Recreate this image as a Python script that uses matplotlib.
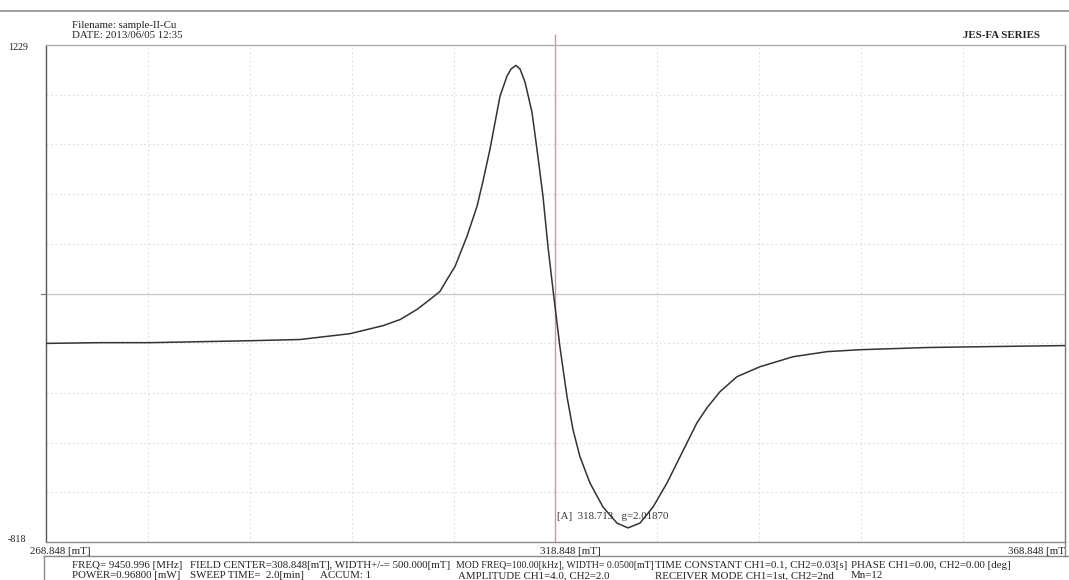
import matplotlib
matplotlib.use("Agg")
import matplotlib.pyplot as plt
from matplotlib.lines import Line2D

# ---- data ----
field_mT = [268.85, 274.15, 279.05, 283.96, 288.87, 293.77, 298.68, 301.92, 303.59,
            305.26, 306.53, 307.51, 308.20, 308.99, 310.16, 311.15, 311.73, 312.42, 313.40,
            314.09, 314.48, 314.97, 315.37, 315.86, 316.54, 317.03, 317.62, 318.11, 318.60,
            319.29, 319.98, 320.57, 321.25, 322.23, 323.51, 324.88, 325.96, 327.14, 328.42,
            329.79, 331.07, 332.73, 333.72, 334.99, 336.66, 338.92, 342.16, 345.49,
            348.73, 355.31, 361.78, 368.85]
intensity = [0, 3, 3, 7, 11, 16, 40, 73, 98,
             140, 181, 214, 263, 317, 441, 565, 668, 800, 1018,
             1101, 1130, 1145, 1130, 1076, 952, 800, 606, 399, 222,
             -17, -220, -356, -467, -575, -674, -740, -760, -740, -674,
             -575, -467, -327, -265, -199, -137, -96, -55, -34,
             -26, -17, -13, -9]

x_min, x_max = 268.848, 368.848
y_min, y_max = -818, 1229
x_labels = ["268.848 [mT]", "318.848 [mT]", "368.848 [mT"]
header = ["Filename: sample-II-Cu", "DATE: 2013/06/05 12:35"]
brand = "JES-FA SERIES"
marker_text = "[A]  318.713   g=2.01870"
row1 = [("FREQ= 9450.996 [MHz]", 72, 7.8),
        ("FIELD CENTER=308.848[mT], WIDTH+/-= 500.000[mT]", 190, 7.8),
        ("MOD FREQ=100.00[kHz], WIDTH= 0.0500[mT]", 456, 7.0),
        ("TIME CONSTANT CH1=0.1, CH2=0.03[s]", 655, 7.8),
        ("PHASE CH1=0.00, CH2=0.00 [deg]", 851, 7.8)]
row2 = [("POWER=0.96800 [mW]", 72),
        ("SWEEP TIME=  2.0[min]", 190),
        ("ACCUM: 1", 320),
        ("AMPLITUDE CH1=4.0, CH2=2.0", 458),
        ("RECEIVER MODE CH1=1st, CH2=2nd", 655),
        ("Mn=12", 851)]

W, H = 1069, 580
fig = plt.figure(figsize=(W / 100, H / 100), dpi=100)
fig.patch.set_facecolor("white")

def fx(px):
    return px / W

def fy(py):
    return 1 - py / H

L, R, T, B = 46, 1065, 45, 542
ax = fig.add_axes([fx(L), fy(B), fx(R) - fx(L), fy(T) - fy(B)])
ax.set_xlim(x_min, x_max)
ax.set_ylim(y_min, y_max)
ax.set_xticks([])
ax.set_yticks([])

serif = ["Liberation Serif", "DejaVu Serif"]

# grid
grid_c = "#dcdcdc"
for i in range(1, 10):
    xv = x_min + (x_max - x_min) * i / 10
    if i != 5:
        ax.axvline(xv, color=grid_c, lw=0.8, ls=(0, (1.5, 2.5)), zorder=1)
for i in range(1, 10):
    yv = y_min + (y_max - y_min) * i / 10
    if i == 5:
        ax.axhline(yv, color="#c4c4c4", lw=0.9, zorder=1)
    else:
        ax.axhline(yv, color=grid_c, lw=0.8, ls=(0, (1.5, 2.5)), zorder=1)

# center red line
xc = (x_min + x_max) / 2
ax.plot([xc, xc], [y_min, y_max + 40], color="#e48c9c", lw=1.0, clip_on=False, zorder=2)

# spectrum
ax.plot(field_mT, intensity, color="#333333", lw=1.1, zorder=3)

for s, c in [("left", "#555555"), ("bottom", "#8a8a8a"), ("top", "#b0b0b0"), ("right", "#777777")]:
    ax.spines[s].set_color(c)
    ax.spines[s].set_linewidth(1.0)

# left tick on the center line
fig.add_artist(Line2D([fx(41), fx(46)], [fy(294), fy(294)], color="#777777", lw=0.9))

# top rule
fig.add_artist(Line2D([0, 1], [fy(11), fy(11)], color="#999999", lw=1.3))

fs = 7.8
fig.text(fx(72), fy(25), header[0], fontsize=fs, family=serif, va="center", color="#222222")
fig.text(fx(72), fy(36), header[1], fontsize=fs, family=serif, va="center", color="#222222")
fig.text(fx(1040), fy(35), brand, fontsize=fs, family=serif, va="center", ha="right",
         color="#222222", fontweight="bold")

fig.text(fx(8), fy(47), str(y_max), fontsize=7.2, family=serif, va="center", color="#222222")
fig.text(fx(8), fy(540), str(y_min), fontsize=7.2, family=serif, va="center", color="#222222")

ax.text(xc + 0.15, y_min + 0.052 * (y_max - y_min), marker_text, fontsize=fs, family=serif,
        va="center", ha="left", color="#333333", zorder=4)

# x labels
fig.text(fx(30), fy(552), x_labels[0], fontsize=fs, family=serif, va="center", color="#222222")
fig.text(fx(540), fy(552), x_labels[1], fontsize=fs, family=serif, va="center", color="#222222")
fig.text(fx(1008), fy(552), x_labels[2], fontsize=fs, family=serif, va="center", color="#222222")

# info box
fig.add_artist(Line2D([fx(44), 1], [fy(556), fy(556)], color="#888888", lw=1.0))
fig.add_artist(Line2D([fx(44), fx(44)], [fy(556), 0], color="#888888", lw=1.0))
fig.add_artist(Line2D([fx(1065), fx(1065)], [fy(542), fy(556)], color="#888888", lw=1.0))
for txt, px, size in row1:
    fig.text(fx(px), fy(565), txt, fontsize=size, family=serif, va="center", color="#222222")
for txt, px in row2:
    fig.text(fx(px), fy(576), txt, fontsize=fs, family=serif, va="center", color="#222222")

fig.savefig("out.png", dpi=100, facecolor="white")
